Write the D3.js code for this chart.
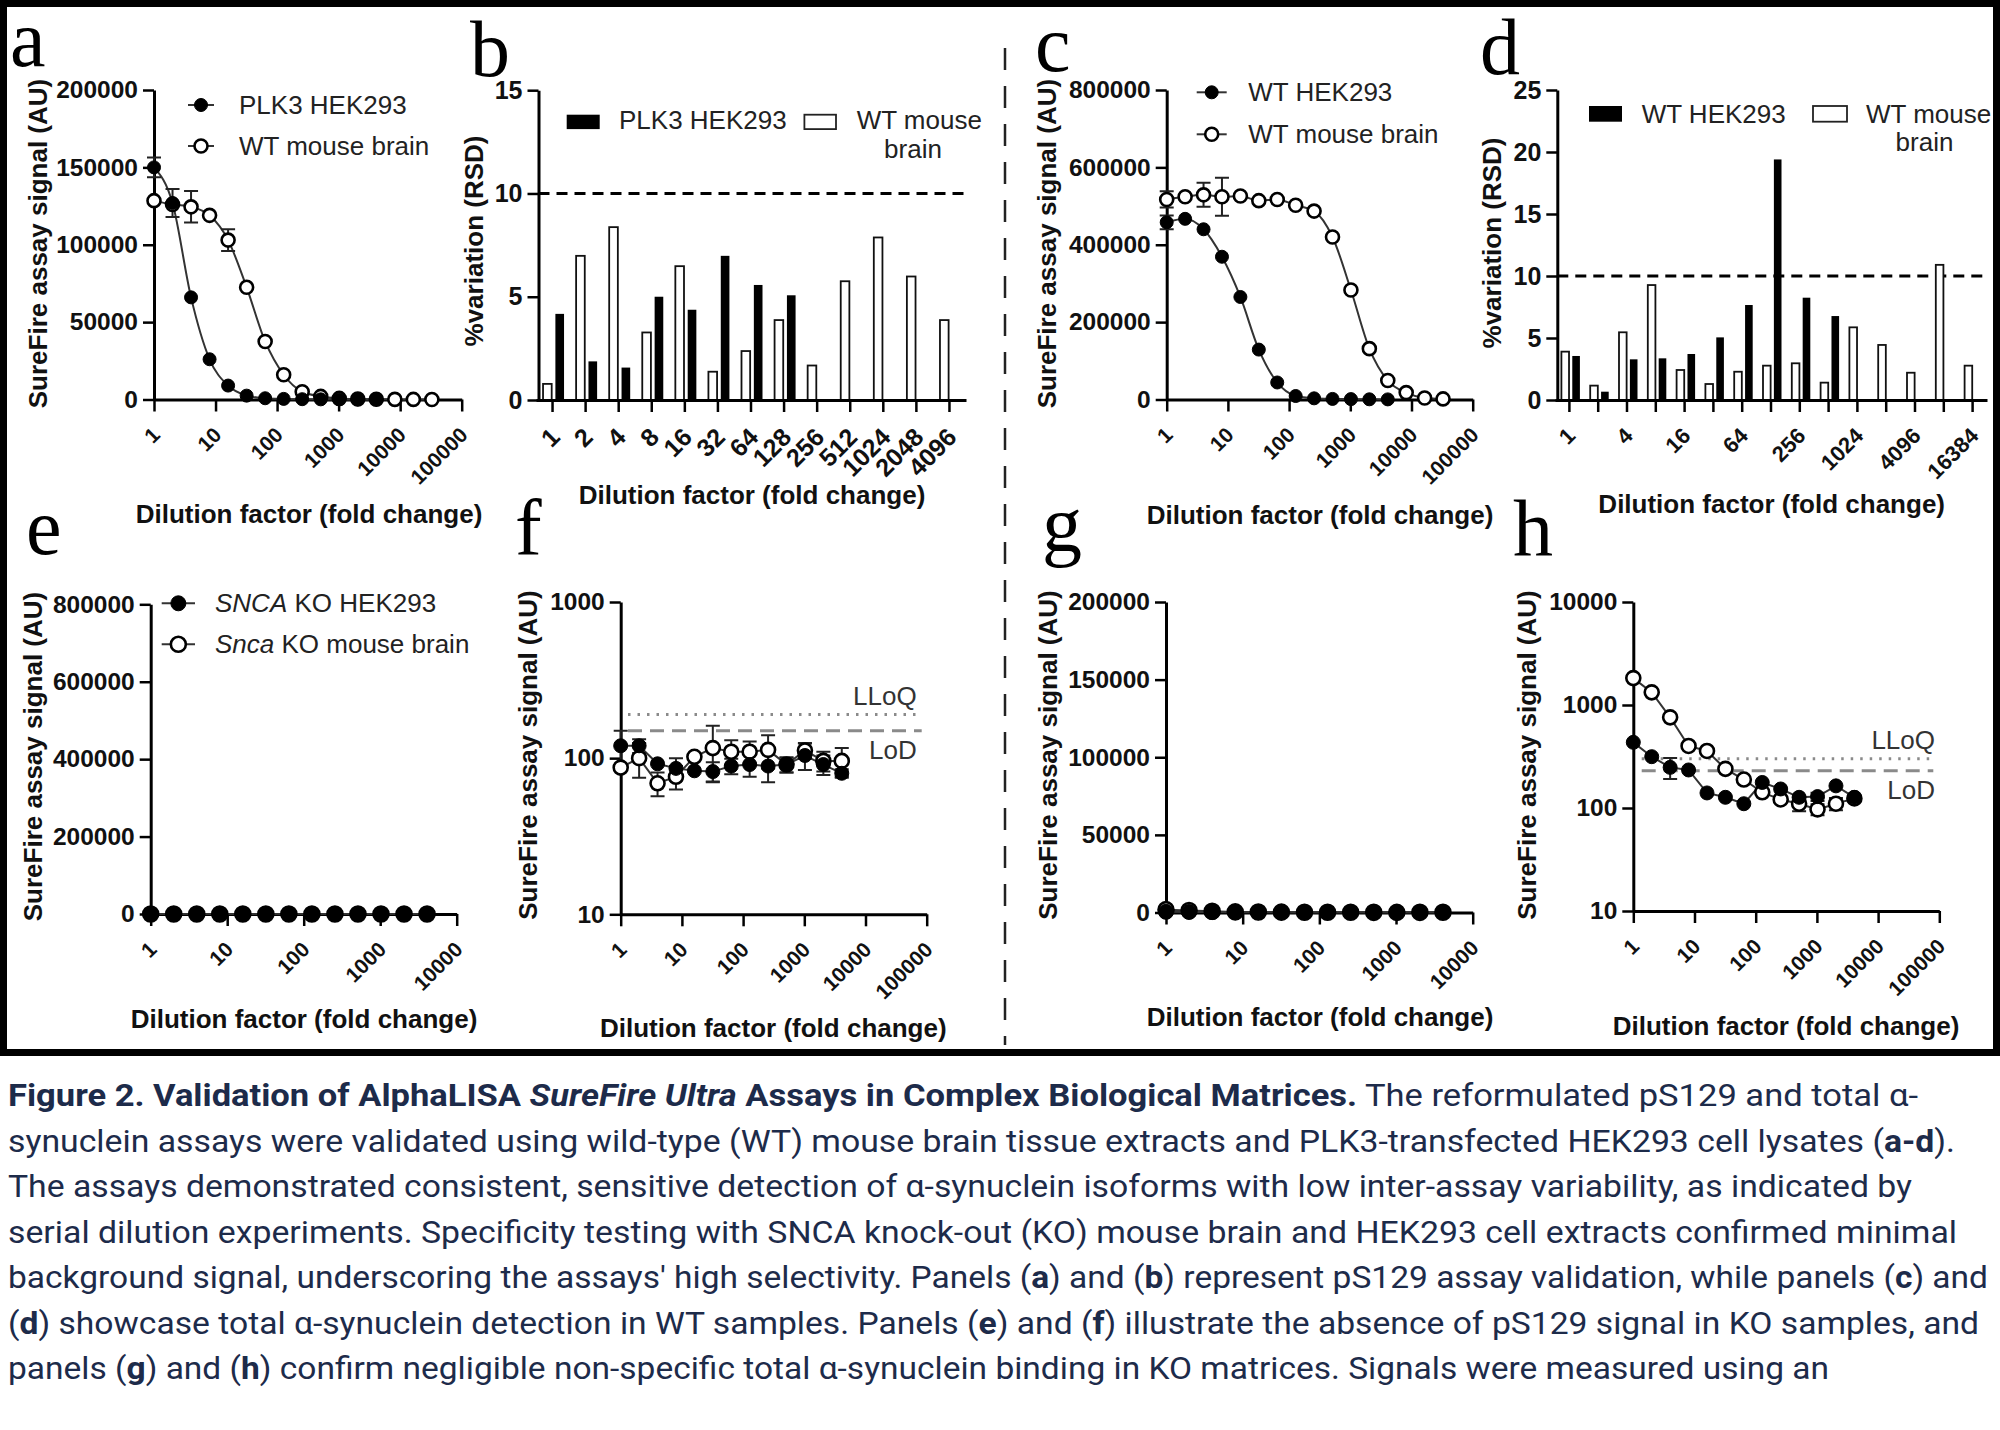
<!DOCTYPE html>
<html>
<head>
<meta charset="utf-8">
<script src="https://cdn.jsdelivr.net/npm/d3@7"></script>
<style>
body{margin:0;background:#fff}
svg text{font-family:"Liberation Sans",Arial,Helvetica,sans-serif}
</style>
</head>
<body>
<svg id="fig" width="2000" height="1430"></svg>
<script>
// dilution steps
const dil13 = [1,2,4,8,16,32,64,128,256,512,1024,2048,4096]
const dil16 = [1,2,4,8,16,32,64,128,256,512,1024,2048,4096,8192,16384,32768]
const logTicks5 = [1,10,100,1000,10000,100000]
const logTicks4 = [1,10,100,1000,10000]

// a: pS129, PLK3 HEK293 vs WT brain
const aHek = [150000,127000,66000,26000,9000,2500,800,400,200,100,80,60,50]
const aHekErr = [6400,9000,0,0,0,0,0,0,0,0,0,0,0]
const aBrain = [128500,126000,124500,119000,103000,72500,37500,16000,5000,2000,700,300,150,80,50,30]
const aBrainErr = [0,0,10200,0,7000,0,0,0,0,0,0,0,0,0,0,0]

// b: %RSD pS129
const bCats = ["1","2","4","8","16","32","64","128","256","512","1024","2048","4096"]
const bHek = [4.17,1.87,1.57,5.0,4.37,6.98,5.57,5.07,null,null,null,null,null]
const bBrain = [0.78,6.98,8.37,3.27,6.48,1.37,2.37,3.87,1.67,5.75,7.87,5.98,3.87]

// c: total, WT HEK293 vs WT brain
const cHek = [458000,467000,440000,369000,265000,129000,44000,9000,3000,1500,1000,500,300]
const cHekErr = [17800,0,0,0,0,0,0,0,0,0,0,0,0]
const cBrain = [517000,524000,529000,524000,526000,514000,517000,502000,487000,420000,283000,131500,49000,17800,4000,1500]
const cBrainErr = [21000,0,31000,49000,0,0,0,0,0,0,0,0,0,0,0,0]

// d: %RSD total
const dCats = ["1","2","4","8","16","32","64","128","256","512","1024","2048","4096","8192","16384"]
const dHek = [3.55,0.67,3.28,3.36,3.71,5.05,7.66,19.4,8.25,6.77,null,null,null,null,null]
const dBrain = [3.9,1.16,5.46,9.27,2.42,1.29,2.28,2.77,2.96,1.40,5.86,4.44,2.2,10.9,2.77]

// e/f: pS129 in KO samples
const fHek = [120,120,92,86,83,82,89,91,89,91,104,91,80]
const fHekErr = [30,12,0,14,0,12,10,15,19,10,20,13,5]
const fBrain = [87,100,69,76,102,116,110,110,113,91,112,96,96]
const fBrainErr = [0,25,12,13,0,45,20,18,27,10,13,14,20]

// g/h: total in KO samples
const hHek = [434,315,248,234,140,127,110,177,153,127,129,164,127]
const hHekErr = [0,0,57,0,0,0,0,0,0,0,12,0,0]
const hBrain = [1825,1327,759,400,358,240,189,142,121,110,97,110,124]
const hBrainErr = [0,0,0,0,0,0,0,0,0,17,12,15,0]

const fLimits = [190,150]   // LLoQ, LoD
const hLimits = [300,230]

const svg = d3.select("#fig")

// frame + separator
svg.append("rect").attr("x",3.5).attr("y",3.5).attr("width",1993).attr("height",1049)
  .attr("fill","none").attr("stroke","#000").attr("stroke-width",7)
svg.append("line").attr("x1",1005).attr("x2",1005).attr("y1",48).attr("y2",1045)
  .attr("stroke","#222").attr("stroke-width",2.5).attr("stroke-dasharray","22,16")

function letter(t,x,y){
  svg.append("text").attr("x",x).attr("y",y).text(t)
    .style("font-family","'Liberation Serif','Times New Roman',serif").style("font-size","80px").attr("fill","#000")
}
function titles(g,p){
  g.append("text").attr("x",p.xTitle[0]).attr("y",p.xTitle[1]).attr("text-anchor","middle")
    .style("font-size","26px").style("font-weight","bold").attr("fill","#111").text("Dilution factor (fold change)")
  g.append("text").attr("transform",`translate(${p.yTitle[0]},${p.yTitle[1]}) rotate(-90)`)
    .attr("text-anchor","middle").attr("dy","0.35em")
    .style("font-size","26px").style("font-weight","bold").attr("fill","#111").text(p.yLabel)
}
function styleAxis(ax, fs){
  ax.attr("font-family",null).attr("font-size",null)
  ax.select(".domain").attr("stroke","#000").attr("stroke-width",3)
  ax.selectAll(".tick line").attr("stroke","#000").attr("stroke-width",2.5)
  ax.selectAll(".tick text").attr("fill","#111").style("font-size",fs).style("font-weight","bold")
}
function rotateLabels(ax){
  ax.selectAll(".tick text").attr("x",0).attr("y",0).attr("dy","0.72em")
    .attr("text-anchor","end").attr("transform","translate(-4,26) rotate(-45)")
}

function linePanel(p){
  const g = svg.append("g")
  const x = d3.scaleLog().domain([1,p.xMax]).range([p.left,p.right])
  const y = p.log ? d3.scaleLog().domain(p.yDomain).range([p.bottom,p.top])
                  : d3.scaleLinear().domain(p.yDomain).range([p.bottom,p.top])
  const gx = g.append("g").attr("transform",`translate(0,${p.bottom})`)
    .call(d3.axisBottom(x).tickValues(p.xTicks).tickFormat(d3.format("d")).tickSize(12).tickSizeOuter(0))
  styleAxis(gx,"21px"); rotateLabels(gx)
  const gy = g.append("g").attr("transform",`translate(${p.left},0)`)
    .call(d3.axisLeft(y).tickValues(p.yTicks).tickFormat(d3.format("d")).tickSize(11).tickPadding(5).tickSizeOuter(0))
  styleAxis(gy,"24.5px")

  // LLoQ / LoD
  if (p.limits){
    const [lloq, lod] = p.limits
    g.append("line").attr("x1",p.limX[0]).attr("x2",p.limX[1]).attr("y1",y(lloq)).attr("y2",y(lloq))
      .attr("stroke","#8a8a8a").attr("stroke-width",3).attr("stroke-dasharray","2.5,7")
    g.append("line").attr("x1",p.limX[0]).attr("x2",p.limX[1]).attr("y1",y(lod)).attr("y2",y(lod))
      .attr("stroke","#8a8a8a").attr("stroke-width",3).attr("stroke-dasharray","14,8")
    g.append("text").attr("x",p.limLabelX).attr("y",y(lloq)-10).attr("text-anchor","end")
      .style("font-size","26px").attr("fill","#333").text("LLoQ")
    g.append("text").attr("x",p.limLabelX).attr("y",y(lod)+28).attr("text-anchor","end")
      .style("font-size","26px").attr("fill","#333").text("LoD")
  }

  const line = d3.line().x(d=>x(d.x)).y(d=>y(d.v)).curve(p.curve)
  const sets = p.series.map(s => s.x.map((xv,i)=>({x:xv, v:s.v[i], e:s.e ? s.e[i] : 0})))
  sets.forEach(pts => g.append("path").attr("d",line(pts)).attr("fill","none").attr("stroke","#333").attr("stroke-width",2))
  sets.forEach(pts => {
    const eb = pts.filter(d=>d.e>0)
    g.selectAll(null).data(eb).enter().append("path")
      .attr("d",d=>{
        const cx = x(d.x), y1 = y(d.v+d.e), y2 = y(d.v-d.e)
        return `M${cx},${y1}V${y2}M${cx-7},${y1}H${cx+7}M${cx-7},${y2}H${cx+7}`
      })
      .attr("stroke","#222").attr("stroke-width",2).attr("fill","none")
  })
  sets.forEach((pts,k) => {
    const filled = p.series[k].filled
    g.selectAll(null).data(pts).enter().append("circle")
      .attr("cx",d=>x(d.x)).attr("cy",d=>y(d.v)).attr("r",p.r)
      .attr("fill",filled ? "#000" : "#fff").attr("stroke","#000").attr("stroke-width",filled ? 1 : 2.6)
  })

  if (p.legend){
    const L = p.legend
    L.rows.forEach(row => {
      g.append("line").attr("x1",L.x1).attr("x2",L.x2).attr("y1",row.y).attr("y2",row.y)
        .attr("stroke","#333").attr("stroke-width",2)
      g.append("circle").attr("cx",(L.x1+L.x2)/2).attr("cy",row.y).attr("r",p.r)
        .attr("fill",row.filled ? "#000" : "#fff").attr("stroke","#000").attr("stroke-width",row.filled ? 1 : 2.6)
      const t = g.append("text").attr("x",L.xt).attr("y",row.y).attr("dy","0.35em")
        .style("font-size","26px").attr("fill","#222")
      row.label.forEach(([s,it]) => t.append("tspan").style("font-style",it ? "italic" : "normal").text(s))
    })
  }
  titles(g,p)
}

function barPanel(p){
  const g = svg.append("g")
  const x = d3.scaleBand().domain(p.cats).range([p.left,p.right])
  const sub = d3.scaleBand().domain(["brain","hek"]).range(p.sub).paddingInner(0.3)
  const y = d3.scaleLinear().domain([0,p.yMax]).range([p.bottom,p.top])
  const mid = c => x(c) + x.bandwidth()/2

  g.append("line").attr("x1",p.axisX).attr("x2",p.right).attr("y1",y(10)).attr("y2",y(10))
    .attr("stroke","#000").attr("stroke-width",3).attr("stroke-dasharray","11,7")

  const rows = p.cats.map((c,i)=>({c, brain:p.brain[i], hek:p.hek[i]}))
  g.selectAll(null).data(rows.filter(d=>d.brain!=null)).enter().append("rect")
    .attr("x",d=>mid(d.c)+sub("brain")).attr("width",sub.bandwidth())
    .attr("y",d=>y(d.brain)).attr("height",d=>y(0)-y(d.brain))
    .attr("fill","#fff").attr("stroke","#111").attr("stroke-width",1.8)
  g.selectAll(null).data(rows.filter(d=>d.hek!=null)).enter().append("rect")
    .attr("x",d=>mid(d.c)+sub("hek")).attr("width",sub.bandwidth())
    .attr("y",d=>y(d.hek)).attr("height",d=>y(0)-y(d.hek))
    .attr("fill","#000")

  const gx = g.append("g").attr("transform",`translate(0,${p.bottom})`)
    .call(d3.axisBottom(x).tickSize(12).tickSizeOuter(0).tickFormat((d,i)=> i % p.every === 0 ? d : ""))
  styleAxis(gx,p.xFont); rotateLabels(gx)
  const gy = g.append("g").attr("transform",`translate(${p.axisX},0)`)
    .call(d3.axisLeft(y).tickValues(p.yTicks).tickSize(11).tickPadding(5).tickSizeOuter(0))
  styleAxis(gy,"25px")

  const L = p.legend
  g.append("rect").attr("x",L.hekRect[0]).attr("y",L.hekRect[1]).attr("width",L.hekRect[2]).attr("height",L.hekRect[3]).attr("fill","#000")
  g.append("text").attr("x",L.hekText[0]).attr("y",L.hekText[1]).style("font-size","26px").attr("fill","#222").text(p.hekLabel)
  g.append("rect").attr("x",L.brainRect[0]).attr("y",L.brainRect[1]).attr("width",L.brainRect[2]).attr("height",L.brainRect[3])
    .attr("fill","#fff").attr("stroke","#222").attr("stroke-width",1.8)
  g.append("text").attr("x",L.brainText[0]).attr("y",L.brainText[1]).style("font-size","26px").attr("fill","#222").text("WT mouse")
  g.append("text").attr("x",L.brain2[0]).attr("y",L.brain2[1]).attr("text-anchor","middle").style("font-size","26px").attr("fill","#222").text("brain")
  titles(g,p)
}

const SIG = "SureFire assay signal (AU)"

linePanel({left:154,right:461.7,top:90,bottom:399.5,xMax:1e5,xTicks:logTicks5,
  yDomain:[0,200000],yTicks:[0,50000,100000,150000,200000],curve:d3.curveMonotoneX,r:6.5,
  series:[{x:dil16,v:aBrain,e:aBrainErr,filled:false},{x:dil13,v:aHek,e:aHekErr,filled:true}],
  legend:{x1:188,x2:214,xt:239,rows:[{y:105,filled:true,label:[["PLK3 HEK293",false]]},{y:146,filled:false,label:[["WT mouse brain",false]]}]},
  xTitle:[309,523],yTitle:[38,243.5],yLabel:SIG})
barPanel({left:536,right:966,axisX:538.5,top:90.2,bottom:400,yMax:15,yTicks:[0,5,10,15],
  cats:bCats,hek:bHek,brain:bBrain,sub:[-9.5,11.5],every:1,hekLabel:"PLK3 HEK293",xFont:"25px",
  legend:{hekRect:[566.7,114.7,33,14.4],hekText:[619,129],brainRect:[804.4,114.7,31.6,14.4],brainText:[856.7,129],brain2:[913,158.4]},
  xTitle:[752,504],yTitle:[474,241],yLabel:"%variation (RSD)"})
linePanel({left:1166.7,right:1472.7,top:90,bottom:399.5,xMax:1e5,xTicks:logTicks5,
  yDomain:[0,800000],yTicks:[0,200000,400000,600000,800000],curve:d3.curveMonotoneX,r:6.5,
  series:[{x:dil16,v:cBrain,e:cBrainErr,filled:false},{x:dil13,v:cHek,e:cHekErr,filled:true}],
  legend:{x1:1196.7,x2:1226.7,xt:1248.3,rows:[{y:92.3,filled:true,label:[["WT HEK293",false]]},{y:134.3,filled:false,label:[["WT mouse brain",false]]}]},
  xTitle:[1320,524],yTitle:[1046.7,243.6],yLabel:SIG})
barPanel({left:1555,right:1987,axisX:1557.3,top:90,bottom:400,yMax:25,yTicks:[0,5,10,15,20,25],
  cats:dCats,hek:dHek,brain:dBrain,sub:[-8,10.5],every:2,hekLabel:"WT HEK293",xFont:"22px",
  legend:{hekRect:[1589,106,33,15.7],hekText:[1641.7,122.7],brainRect:[1813,106,34,15.7],brainText:[1866,122.7],brain2:[1924.5,150.7]},
  xTitle:[1771.7,513],yTitle:[1491.7,243],yLabel:"%variation (RSD)"})
linePanel({left:150.7,right:456.7,top:604.3,bottom:914,xMax:1e4,xTicks:logTicks4,
  yDomain:[0,800000],yTicks:[0,200000,400000,600000,800000],curve:d3.curveLinear,r:7.5,
  series:[{x:dil13,v:fBrain,filled:false},{x:dil13,v:fHek,filled:true}],
  legend:{x1:161.7,x2:195,xt:215,rows:[{y:603.3,filled:true,label:[["SNCA",true],[" KO HEK293",false]]},{y:644.3,filled:false,label:[["Snca",true],[" KO mouse brain",false]]}]},
  xTitle:[304,1028],yTitle:[32.5,756.5],yLabel:SIG})
linePanel({left:620.7,right:926.7,top:602,bottom:914.3,xMax:1e5,xTicks:logTicks5,log:true,
  yDomain:[10,1000],yTicks:[10,100,1000],curve:d3.curveLinear,r:7,
  series:[{x:dil13,v:fBrain,e:fBrainErr,filled:false},{x:dil13,v:fHek,e:fHekErr,filled:true}],
  limits:fLimits,limX:[628,921.7],limLabelX:916.7,
  xTitle:[773.3,1037],yTitle:[528.3,755],yLabel:SIG})
linePanel({left:1166,right:1472.7,top:602,bottom:912.5,xMax:1e4,xTicks:logTicks4,
  yDomain:[0,200000],yTicks:[0,50000,100000,150000,200000],curve:d3.curveLinear,r:7.5,
  series:[{x:dil13,v:hBrain,filled:false},{x:dil13,v:hHek,filled:true}],
  xTitle:[1320,1026],yTitle:[1048.3,755],yLabel:SIG})
linePanel({left:1633.3,right:1939.3,top:602,bottom:911,xMax:1e5,xTicks:logTicks5,log:true,
  yDomain:[10,10000],yTicks:[10,100,1000,10000],curve:d3.curveLinear,r:7,
  series:[{x:dil13,v:hBrain,e:hBrainErr,filled:false},{x:dil13,v:hHek,e:hHekErr,filled:true}],
  limits:hLimits,limX:[1641.7,1933.3],limLabelX:1935,
  xTitle:[1786,1035],yTitle:[1526.7,755],yLabel:SIG})

letter("a",10,66); letter("b",470,76); letter("c",1035,71); letter("d",1480,74)
letter("e",26,554); letter("f",515,555); letter("g",1042,551); letter("h",1513,555)

// caption
const capLines = [
  [[["Figure 2. Validation of AlphaLISA ","b"],["SureFire Ultra","bi"],[" Assays in Complex Biological Matrices.","b"],[" The reformulated pS129 and total α-","n"]],1918],
  [[["synuclein assays were validated using wild-type (WT) mouse brain tissue extracts and PLK3-transfected HEK293 cell lysates (","n"],["a-d","b"],[").","n"]],1955],
  [[["The assays demonstrated consistent, sensitive detection of α-synuclein isoforms with low inter-assay variability, as indicated by","n"]],1912],
  [[["serial dilution experiments. Specificity testing with SNCA knock-out (KO) mouse brain and HEK293 cell extracts confirmed minimal","n"]],1957],
  [[["background signal, underscoring the assays' high selectivity. Panels (","n"],["a","b"],[") and (","n"],["b","b"],[") represent pS129 assay validation, while panels (","n"],["c","b"],[") and","n"]],1988],
  [[["(","n"],["d","b"],[") showcase total α-synuclein detection in WT samples. Panels (","n"],["e","b"],[") and (","n"],["f","b"],[") illustrate the absence of pS129 signal in KO samples, and","n"]],1979],
  [[["panels (","n"],["g","b"],[") and (","n"],["h","b"],[") confirm negligible non-specific total α-synuclein binding in KO matrices. Signals were measured using an","n"]],1829]
]
const capBase = [1106,1151.5,1197,1242.5,1288,1333.5,1379]
capLines.forEach(([segs,right],i) => {
  const t = svg.append("text").attr("x",8).attr("y",capBase[i])
    .attr("textLength",right-8).attr("lengthAdjust","spacingAndGlyphs")
    .style("font-family","Roboto,'Noto Sans',sans-serif").style("font-size","32px").attr("fill","#1d2b4a")
  segs.forEach(([s,st]) => t.append("tspan").text(s)
    .style("font-weight",st.startsWith("b") ? "bold" : "normal")
    .style("font-style",st === "bi" ? "italic" : "normal"))
})
</script>
</body>
</html>
